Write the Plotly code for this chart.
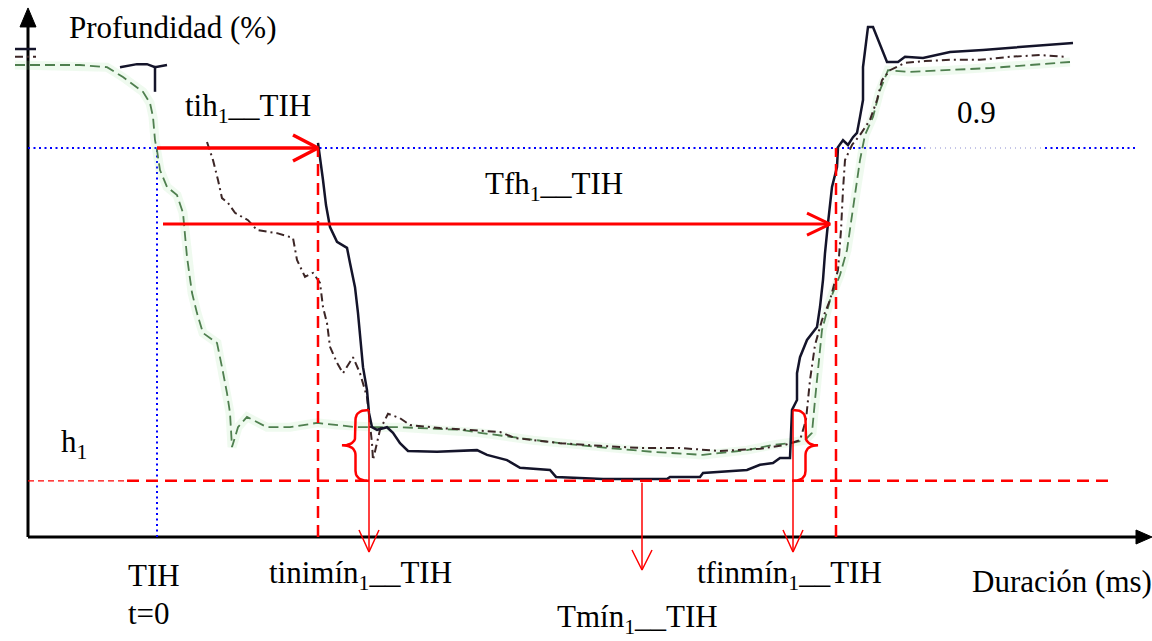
import plotly.graph_objects as go

# ---------------------------------------------------------------
# Depth (fraction) versus duration (ms, measured from the TIH instant)
# ---------------------------------------------------------------

# Main trace: solid black (None breaks the line)
main_t = [-142, -121, None,
          -37, -29, -20, -10, -2, 10, None,
          -2, -2, None,
          161, 163, 166, 169, 173, 180, 190, 193, 198, 201, 204, 206, 210, 212,
          215, 220, 230, 236, 243, 251, 280, 320, 330, 350, 363, 393, 399, 446,
          510, 513, 543, 546, 590, 603, 616, 623, 633, 635, 640, 640, 643, 650,
          660, 663, 666, 668, 671, 675, 680, 681, 686, 691, 696, 700, 703, 706,
          706, 711, 716, 730, 741, 748, 766, 793, 826, 863, 916]
main_d = [1.129, 1.129, None,
          1.087, 1.090, 1.094, 1.094, 1.087, 1.092, None,
          1.090, 1.030, None,
          0.912, 0.872, 0.826, 0.768, 0.717, 0.683, 0.669, 0.634, 0.578, 0.518,
          0.449, 0.393, 0.340, 0.287, 0.254, 0.248, 0.254, 0.241, 0.217, 0.199,
          0.197, 0.201, 0.190, 0.178, 0.160, 0.155, 0.139, 0.134, 0.134, 0.139,
          0.139, 0.148, 0.155, 0.167, 0.171, 0.183, 0.183, 0.294, 0.317, 0.379,
          0.416, 0.456, 0.486, 0.532, 0.595, 0.657, 0.726, 0.810, 0.856, 0.902,
          0.918, 0.907, 0.925, 0.935, 0.972, 1.011, 1.087, 1.180, 1.180, 1.099,
          1.099, 1.111, 1.108, 1.122, 1.127, 1.134, 1.143]

# Second trace: dark dash-dot
dd_t = [-142, -121, None,
        50, 56, 61, 65, 71, 78, 91, 100, 120, 136, 140, 148, 156, 163, 166,
        170, 173, 180, 186, 196, 203, 210, 215, 216, 223, 231, 243, 253, 283,
        313, 343, 358, 403, 443, 483, 523, 563, 603, 628, 643, 649, 653, 658,
        665, 673, 681, 684, 686, 688, 695, 703, 713, 720, 725, 733, 748, 768,
        793, 823, 853, 883, 908]
dd_d = [1.111, 1.111, None,
        0.914, 0.872, 0.826, 0.784, 0.773, 0.750, 0.733, 0.710, 0.703, 0.692,
        0.641, 0.602, 0.611, 0.588, 0.532, 0.495, 0.440, 0.403, 0.379, 0.416,
        0.379, 0.324, 0.217, 0.178, 0.248, 0.285, 0.275, 0.259, 0.252, 0.248,
        0.243, 0.229, 0.217, 0.211, 0.206, 0.206, 0.199, 0.204, 0.213, 0.224,
        0.271, 0.363, 0.444, 0.502, 0.548, 0.618, 0.710, 0.803, 0.872, 0.907,
        0.930, 0.965, 1.011, 1.057, 1.080, 1.097, 1.101, 1.104, 1.104, 1.111,
        1.115, 1.111]

# Third trace: green dashed
gr_t = [-142, -117, -77, -50, -34, -14, -7, -4, -2, 0, 3, 10, 20, 26, 30, 35,
        40, 46, 60, 65, 70, 73, 75, 81, 90, 110, 133, 160, 180, 200, 220, 243,
        263, 303, 323, 376, 403, 450, 496, 546, 590, 616, 633, 648, 655, 658,
        661, 665, 673, 683, 690, 696, 700, 703, 708, 716, 723, 731, 753, 793,
        833, 873, 913]
gr_d = [1.092, 1.092, 1.092, 1.087, 1.064, 1.030, 1.004, 0.972, 0.918, 0.895,
        0.849, 0.810, 0.791, 0.750, 0.648, 0.565, 0.518, 0.472, 0.449, 0.393,
        0.333, 0.287, 0.208, 0.254, 0.278, 0.254, 0.254, 0.264, 0.259, 0.254,
        0.254, 0.254, 0.252, 0.248, 0.241, 0.224, 0.217, 0.206, 0.197, 0.190,
        0.201, 0.213, 0.217, 0.224, 0.241, 0.317, 0.386, 0.479, 0.548, 0.606,
        0.664, 0.757, 0.826, 0.872, 0.930, 0.972, 1.034, 1.080, 1.076, 1.080,
        1.085, 1.092, 1.099]

# Characteristic instants (ms) and levels (fraction of depth)
T_AXIS = -129          # where the depth axis stands
T_END = 995            # tip of the duration axis
TIH = 0
TIH1 = 161
TFH1 = 679
TFH_ARROW_END = 673
TINIMIN1 = 212
TFINMIN1 = 636
TMIN1 = 485
LEVEL_09 = 0.9
H1 = 0.13
BRACE_TOP = 0.294
TFH_LEVEL = 0.724
Y_TOP = 1.224

labels = [
    ("Profundidad (%)", -90, 1.178),
    ("tih<sub>1</sub>__TIH", 26, 0.993),
    ("Tfh<sub>1</sub>__TIH", 326, 0.812),
    ("0.9", 798, 0.983),
    ("h<sub>1</sub>", -98, 0.215),
    ("TIH", -31, -0.088),
    ("t=0", -31, -0.178),
    ("tinimín<sub>1</sub>__TIH", 110, -0.088),
    ("tfinmín<sub>1</sub>__TIH", 538, -0.088),
    ("Duración (ms)", 813, -0.104),
    ("Tmín<sub>1</sub>__TIH", 398, -0.190),
]

# ---------------------------------------------------------------
W, H = 1152, 641
X_RANGE = [-157, 995]
Y_RANGE = [-0.2406, 1.2424]
SX = (X_RANGE[1] - X_RANGE[0]) / W     # ms per pixel
SY = (Y_RANGE[1] - Y_RANGE[0]) / H     # depth per pixel

RED = "#ff0000"
BLUE = "#0000ff"
FONT = "Liberation Serif"

fig = go.Figure()


def line(x, y, color, width, dash="solid", opacity=1.0):
    fig.add_trace(go.Scatter(x=x, y=y, mode="lines", hoverinfo="skip",
                             line=dict(color=color, width=width, dash=dash),
                             opacity=opacity, showlegend=False))


def filled(x, y, color):
    fig.add_trace(go.Scatter(x=x, y=y, mode="lines", fill="toself",
                             fillcolor=color, hoverinfo="skip",
                             line=dict(color=color, width=1), showlegend=False))


def open_head(tx, ty, direction, back_px, half_px, color, width):
    """V-shaped arrow head with its tip at (tx, ty)."""
    if direction == "right":
        bx, by1, by2 = tx - back_px * SX, ty + half_px * SY, ty - half_px * SY
        line([bx, tx, bx], [by1, ty, by2], color, width)
    else:  # down
        by = ty + back_px * SY
        line([tx - half_px * SX, tx, tx + half_px * SX], [by, ty, by], color, width)


def quad(p0, p1, p2, n=10):
    pts = []
    for i in range(n + 1):
        t = i / n
        a, b, c = (1 - t) ** 2, 2 * (1 - t) * t, t * t
        pts.append((a * p0[0] + b * p1[0] + c * p2[0],
                    a * p0[1] + b * p1[1] + c * p2[1]))
    return pts


def brace(x_end, x_tip, y_bot, y_top, r_px=10):
    xs = (x_end + x_tip) / 2
    r = r_px * SY
    ym = (y_bot + y_top) / 2
    pts = (quad((x_end, y_top), (xs, y_top), (xs, y_top - r))
           + quad((xs, ym + r), (xs, ym), (x_tip, ym))
           + quad((x_tip, ym), (xs, ym), (xs, ym - r))
           + quad((xs, y_bot + r), (xs, y_bot), (x_end, y_bot)))
    line([p[0] for p in pts], [p[1] for p in pts], RED, 2.5)


# Axes with filled arrow heads
line([T_AXIS, T_AXIS], [0, Y_TOP - 19 * SY], "black", 3)
line([T_AXIS, T_END - 16 * SX], [0, 0], "black", 3)
filled([T_AXIS - 8 * SX, T_AXIS, T_AXIS + 8 * SX, T_AXIS - 8 * SX],
       [Y_TOP - 19 * SY, Y_TOP, Y_TOP - 19 * SY, Y_TOP - 19 * SY], "black")
filled([T_END - 16 * SX, T_END, T_END - 16 * SX, T_END - 16 * SX],
       [7 * SY, 0, -7 * SY, 7 * SY], "black")

# Blue dotted references: 0.9 level and TIH instant
line([T_AXIS, 768], [LEVEL_09, LEVEL_09], BLUE, 2, "2px,3.5px")
line([768, 888], [LEVEL_09, LEVEL_09], "#8a8ad0", 1, "1px,4px")
line([888, 981], [LEVEL_09, LEVEL_09], BLUE, 2, "2px,3.5px")
line([TIH, TIH], [0, LEVEL_09], BLUE, 2, "2px,3.5px")

# Traces (soft green halo under the green trace)
line(gr_t, gr_d, "rgba(150,220,150,0.15)", 9)
line(gr_t, gr_d, "#4f7f4f", 1.8, "10px,5px")
line(dd_t, dd_d, "#3c2626", 2, "8px,4px,2px,4px")
line(main_t, main_d, "#14142a", 2.5)

# Red dashed references
line([T_AXIS, -32], [H1, H1], RED, 1.2, "6px,4px")
line([-30, 955], [H1, H1], RED, 2.5, "12px,7px")
line([TIH1, TIH1], [0, LEVEL_09], RED, 2.5, "12px,7px")
line([TFH1, TFH1], [0, LEVEL_09], RED, 2.5, "12px,7px")

# Red arrows
line([TIH, TIH1], [LEVEL_09, LEVEL_09], RED, 3.5)
open_head(TIH1, LEVEL_09, "right", 25, 13, RED, 3.5)
line([6, TFH_ARROW_END], [TFH_LEVEL, TFH_LEVEL], RED, 3)
open_head(TFH_ARROW_END, TFH_LEVEL, "right", 23, 11, RED, 3)

tip_down = -15 * SY
line([TINIMIN1, TINIMIN1], [BRACE_TOP, tip_down], RED, 1.5)
open_head(TINIMIN1, tip_down, "down", 22, 10, RED, 1.5)
line([TFINMIN1, TFINMIN1], [BRACE_TOP, tip_down], RED, 1.5)
open_head(TFINMIN1, tip_down, "down", 22, 10, RED, 1.5)
tmin_tip = -33 * SY
line([TMIN1, TMIN1], [H1 - 2 * SY, tmin_tip], RED, 1.5)
open_head(TMIN1, tmin_tip, "down", 20, 10, RED, 1.5)

# Braces marking the distance to h1
brace(TINIMIN1, TINIMIN1 - 27, H1, BRACE_TOP)
brace(TFINMIN1, TFINMIN1 + 25, H1, BRACE_TOP)

for text, x, y in labels:
    fig.add_annotation(x=x, y=y, text=text, showarrow=False,
                       xanchor="left", yanchor="middle",
                       font=dict(family=FONT, size=31, color="black"))

fig.update_layout(
    width=W, height=H,
    margin=dict(l=0, r=0, t=0, b=0),
    paper_bgcolor="white", plot_bgcolor="white",
    xaxis=dict(range=X_RANGE, visible=False, fixedrange=True),
    yaxis=dict(range=Y_RANGE, visible=False, fixedrange=True),
    showlegend=False,
)

fig.write_html("out.html", config={"displayModeBar": False})
